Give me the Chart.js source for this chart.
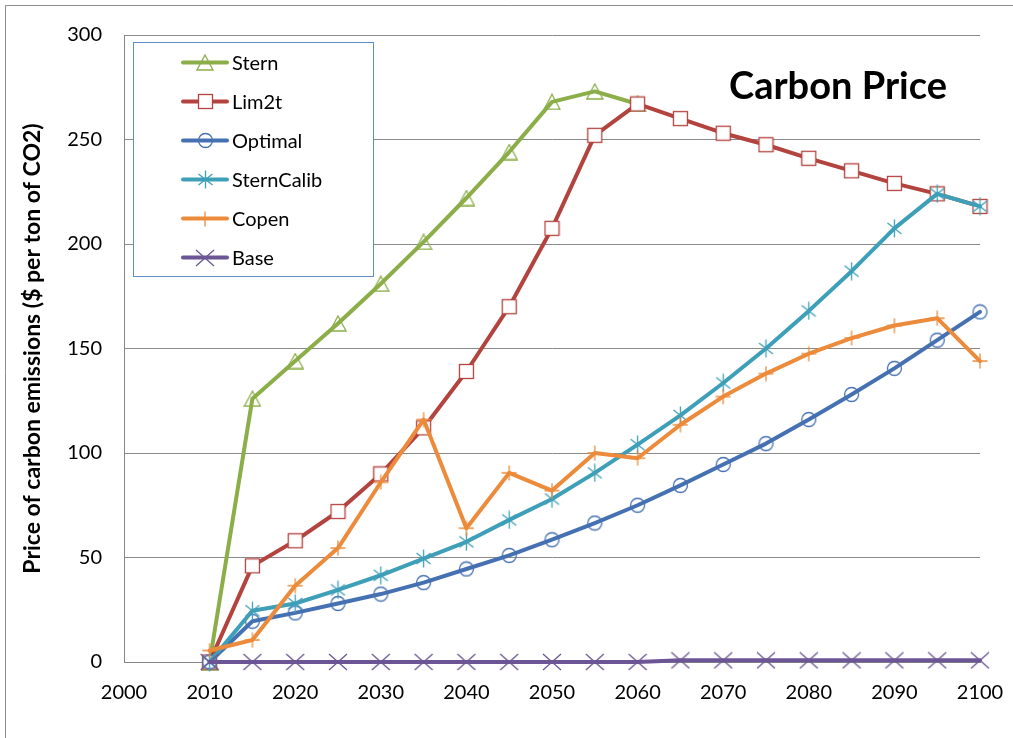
<!DOCTYPE html>
<html>
<head>
<meta charset="utf-8">
<script src="https://cdn.jsdelivr.net/npm/chart.js@4.4.1/dist/chart.umd.min.js"></script>
<style>
  html, body { margin: 0; padding: 0; background: #ffffff; }
  #wrap { width: 1013px; height: 738px; position: relative; }
</style>
</head>
<body>
<div id="wrap"><canvas id="c" width="1013" height="738"></canvas></div>
<script>
// ---------- data ----------
const years = [2010, 2015, 2020, 2025, 2030, 2035, 2040, 2045, 2050, 2055, 2060, 2065, 2070, 2075, 2080, 2085, 2090, 2095, 2100];
const seriesNames = ["Stern", "Lim2t", "Optimal", "SternCalib", "Copen", "Base"];
const stern      = [0, 126, 144, 162, 181, 201, 222, 244, 268, 273, 267, null, null, null, null, null, null, null, null];
const lim2t      = [0, 46, 58, 72, 90, 112, 139, 170, 207.5, 252, 267, 260, 253, 247.5, 241, 235, 229, 224, 218];
const optimal    = [0, 19.5, 23.5, 28, 32.5, 38, 44.5, 51, 58.5, 66.5, 75, 84.5, 94.5, 104.5, 116, 128, 140.5, 154, 167.5];
const sternCalib = [0, 24.5, 28, 34.5, 41.5, 49.5, 57.5, 68, 78, 90.5, 104, 118, 133.5, 150, 168, 187, 207.5, 224, 218];
const copen      = [5.5, 10.5, 36.5, 54.5, 86, 116, 64, 90.5, 82, 100, 97.5, 113.5, 127, 138, 147.5, 155, 161, 164.5, 144];
const base       = [0, 0, 0, 0, 0, 0, 0, 0, 0, 0, 0, 0.8, 0.8, 0.8, 0.8, 0.8, 0.8, 0.8, 0.8];
const xTicks = [2000, 2010, 2020, 2030, 2040, 2050, 2060, 2070, 2080, 2090, 2100];
const yTicks = [0, 50, 100, 150, 200, 250, 300];
const chartTitle = "Carbon Price";
const yTitle = "Price of carbon emissions ($ per ton of CO2)";

// ---------- marker images (Excel-like) ----------
function mk(w, h, fn) {
  const c = document.createElement('canvas');
  c.width = w; c.height = h;
  const g = c.getContext('2d');
  fn(g, w, h);
  return c;
}
const colors = {
  Stern: '#8BAE48', Lim2t: '#B3433F', Optimal: '#4571B2',
  SternCalib: '#3E9FB8', Copen: '#EB8B3B', Base: '#6C5595'
};
const markers = {
  Stern: mk(18, 17, (g) => {
    g.strokeStyle = colors.Stern; g.lineWidth = 1.3;
    g.beginPath(); g.moveTo(9, 1); g.lineTo(17, 16); g.lineTo(1, 16); g.closePath(); g.stroke();
  }),
  Lim2t: mk(17, 17, (g) => {
    g.fillStyle = '#ffffff'; g.fillRect(1, 1, 15, 15);
    g.strokeStyle = colors.Lim2t; g.lineWidth = 1.3; g.strokeRect(1.5, 1.5, 14, 14);
  }),
  Optimal: mk(17, 17, (g) => {
    g.strokeStyle = colors.Optimal; g.lineWidth = 1.3;
    g.beginPath(); g.arc(8.5, 8.5, 7, 0, Math.PI * 2); g.stroke();
  }),
  SternCalib: mk(17, 19, (g) => {
    g.strokeStyle = colors.SternCalib; g.lineWidth = 1.3;
    g.beginPath();
    g.moveTo(8.5, 0.5); g.lineTo(8.5, 18.5);
    g.moveTo(1.5, 4); g.lineTo(15.5, 15);
    g.moveTo(15.5, 4); g.lineTo(1.5, 15);
    g.stroke();
  }),
  Copen: mk(16, 16, (g) => {
    g.strokeStyle = colors.Copen; g.lineWidth = 1.3;
    g.beginPath();
    g.moveTo(8, 0.5); g.lineTo(8, 15.5);
    g.moveTo(0.5, 8); g.lineTo(15.5, 8);
    g.stroke();
  }),
  Base: mk(20, 18, (g) => {
    g.strokeStyle = colors.Base; g.lineWidth = 1.3;
    g.beginPath();
    g.moveTo(1, 1); g.lineTo(19, 17);
    g.moveTo(19, 1); g.lineTo(1, 17);
    g.stroke();
  })
};

const seriesData = [stern, lim2t, optimal, sternCalib, copen, base];
const datasets = seriesNames.map((name, i) => ({
  label: name,
  data: years.map((yr, k) => ({ x: yr, y: seriesData[i][k] })),
  borderColor: colors[name],
  backgroundColor: colors[name],
  borderWidth: 4,
  borderJoinStyle: 'round',
  borderCapStyle: 'round',
  pointStyle: markers[name],
  pointRadius: 8,
  pointHoverRadius: 8,
  tension: 0,
  spanGaps: false,
  clip: false,
  order: seriesNames.length - i
}));

const FONT = "Lato, 'Open Sans', sans-serif";

const decorPlugin = {
  id: 'decor',
  beforeDraw(chart) {
    const ctx = chart.ctx;
    ctx.save();
    ctx.fillStyle = '#ffffff';
    ctx.fillRect(0, 0, chart.width, chart.height);
    ctx.strokeStyle = '#8C8C8C';
    ctx.lineWidth = 1;
    ctx.beginPath();
    ctx.moveTo(5.5, chart.height + 2);
    ctx.lineTo(5.5, 5.5);
    ctx.lineTo(chart.width + 2, 5.5);
    ctx.stroke();
    ctx.restore();
  },
  afterDraw(chart) {
    const ctx = chart.ctx;
    ctx.save();
    // legend box
    const lx = 133.5, ly = 42.5, lw = 240, lh = 234;
    ctx.fillStyle = '#ffffff';
    ctx.fillRect(lx, ly, lw, lh);
    ctx.strokeStyle = '#5E8CC8';
    ctx.lineWidth = 1;
    ctx.strokeRect(lx, ly, lw, lh);
    const rowY0 = 62.5, rowStep = 39;
    chart.data.datasets.forEach((ds, i) => {
      const y = rowY0 + i * rowStep;
      ctx.strokeStyle = ds.borderColor;
      ctx.lineWidth = 4;
      ctx.lineCap = 'round';
      ctx.beginPath(); ctx.moveTo(183, y); ctx.lineTo(227, y); ctx.stroke();
      const img = ds.pointStyle;
      ctx.drawImage(img, Math.round(205 - img.width / 2), Math.round(y - img.height / 2));
      ctx.fillStyle = '#000000';
      ctx.font = '20px ' + FONT;
      ctx.textAlign = 'left';
      ctx.textBaseline = 'middle';
      ctx.fillText(ds.label, 232, y + 1);
    });
    // title
    ctx.fillStyle = '#000000';
    ctx.font = 'bold 38px ' + FONT;
    ctx.textAlign = 'center';
    ctx.textBaseline = 'alphabetic';
    ctx.fillText(chartTitle, 838, 99);
    ctx.restore();
  }
};

new Chart(document.getElementById('c'), {
  type: 'line',
  data: { datasets },
  options: {
    responsive: false,
    animation: false,
    devicePixelRatio: 1,
    layout: { padding: { left: 6, top: 35, right: 33, bottom: 0 } },
    plugins: {
      legend: { display: false },
      tooltip: { enabled: false },
      title: { display: false }
    },
    scales: {
      x: {
        type: 'linear',
        min: 2000, max: 2100,
        afterBuildTicks(scale) { scale.ticks = xTicks.map(v => ({ value: v })); },
        afterFit(scale) { scale.height = 76; scale.paddingLeft = 0; scale.paddingRight = 0; },
        grid: { display: false, drawTicks: false },
        border: { display: true, color: '#868686', width: 1 },
        ticks: {
          color: '#000000',
          font: { family: FONT, size: 20 },
          padding: 19,
          maxRotation: 0,
          autoSkip: false,
          callback: (v) => String(v)
        }
      },
      y: {
        type: 'linear',
        min: 0, max: 300,
        afterBuildTicks(scale) { scale.ticks = yTicks.map(v => ({ value: v })); },
        afterFit(scale) { scale.width = 118; scale.paddingTop = 0; scale.paddingBottom = 0; },
        grid: { color: '#8A8A8A', lineWidth: 1, drawTicks: false },
        border: { display: true, color: '#868686', width: 1 },
        ticks: {
          color: '#000000',
          font: { family: FONT, size: 20 },
          padding: 22,
          callback: (v) => String(v)
        },
        title: {
          display: true,
          text: yTitle,
          color: '#000000',
          font: { family: FONT, size: 23, weight: 'bold' },
          padding: { top: 13, bottom: 0 }
        }
      }
    }
  },
  plugins: [decorPlugin]
});
</script>
</body>
</html>
